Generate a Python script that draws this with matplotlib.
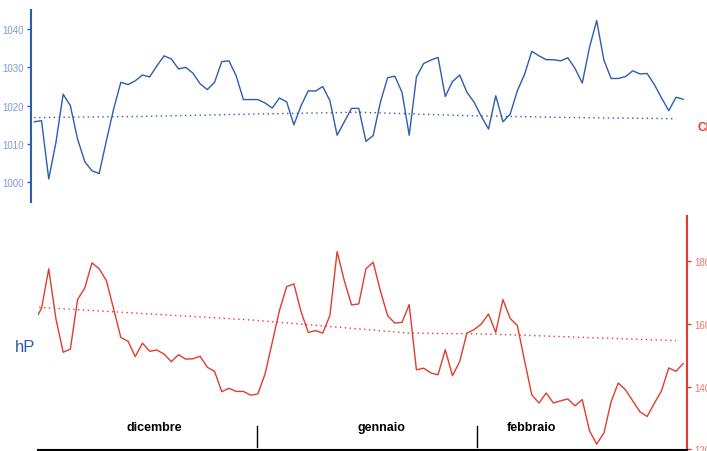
import matplotlib
matplotlib.use('Agg')
import matplotlib.pyplot as plt
import numpy as np

plt.rcParams['font.family'] = ['Liberation Sans', 'DejaVu Sans']

# pressione (hPa) giorno per giorno, dicembre -> febbraio
pressione = [1015.8, 1016.1, 1000.9, 1010.4, 1023.0, 1020.0, 1011.3, 1005.4, 1003.0, 1002.3,
             1010.9, 1019.1, 1026.1, 1025.5, 1026.5, 1028.0, 1027.5, 1030.4, 1033.0, 1032.2,
             1029.6, 1030.0, 1028.5, 1025.7, 1024.2, 1026.1, 1031.5, 1031.7, 1027.8, 1021.6,
             1021.6, 1021.6, 1020.7, 1019.4, 1022.0, 1021.0, 1015.0, 1020.0, 1023.9, 1023.8,
             1025.0, 1021.3, 1012.3, 1015.8, 1019.3, 1019.3, 1010.7, 1012.2, 1020.9, 1027.3,
             1027.7, 1023.5, 1012.3, 1027.5, 1031.0, 1031.9, 1032.6, 1022.4, 1026.3, 1028.0,
             1023.5, 1020.9, 1017.2, 1013.9, 1022.6, 1015.8, 1017.8, 1023.9, 1028.2, 1034.2,
             1033.0, 1032.0, 1032.0, 1031.7, 1032.5, 1029.7, 1025.9, 1035.2, 1042.2, 1031.9,
             1027.1, 1027.1, 1027.6, 1029.1, 1028.3, 1028.4, 1025.5, 1022.0, 1018.7, 1022.2, 1021.7]

# seconda serie (asse destro)
serie2 = [160.9, 165.0, 177.6, 161.6, 151.0, 152.0, 167.8, 171.5, 179.5, 177.6,
          173.8, 164.8, 155.7, 154.5, 149.6, 153.9, 151.3, 151.7, 150.4, 148.0,
          150.2, 148.8, 148.9, 149.7, 146.2, 144.9, 138.4, 139.5, 138.5, 138.5,
          137.3, 137.7, 144.0, 154.1, 164.3, 171.9, 172.8, 163.9, 157.3, 157.9,
          157.1, 162.7, 183.1, 173.8, 166.1, 166.4, 177.6, 179.7, 170.6, 162.7,
          160.3, 160.5, 166.2, 145.4, 145.9, 144.4, 143.8, 151.8, 143.5, 148.0,
          157.1, 158.2, 160.0, 163.2, 157.3, 167.8, 161.8, 159.5, 148.3, 137.4,
          134.8, 138.0, 134.8, 135.5, 136.1, 133.9, 135.9, 126.0, 121.7, 125.2,
          135.2, 141.2, 139.0, 135.5, 132.0, 130.5, 134.7, 138.7, 146.0, 144.9, 147.4]

# valori normali (linee punteggiate)
norm1_giorni = [0, 15, 30, 45, 60, 75, 89]
norm1_valori = [1016.9, 1017.2, 1017.8, 1018.3, 1017.4, 1016.9, 1016.6]
norm2_giorni = [0, 30, 52, 63, 89]
norm2_valori = [165.4, 161.3, 157.1, 156.8, 154.7]

mesi = ['dicembre', 'gennaio', 'febbraio']
mesi_pos = [16.7, 48.2, 69.0]
confini_mesi = [30.85, 61.4]

blu = '#2c5db0'
blu_chiaro = '#7f9bd0'
rosso = '#e03c30'
rosso_chiaro = '#eb7a6f'

giorni = np.arange(len(pressione))

fig = plt.figure(figsize=(7.07, 4.52), dpi=100)

# pannello superiore
ax1 = fig.add_axes([0.04385, 0.5502, 0.9279, 0.4265])
ax1.plot(giorni, pressione, color=blu, lw=1)
ax1.plot(norm1_giorni, norm1_valori, color=blu, lw=1, ls=(0, (1, 2.5)))
ax1.set_xlim(-0.458, 90.53)
ax1.set_ylim(994.79, 1045.09)
ax1.set_yticks([1000, 1010, 1020, 1030, 1040])
for s in ['top', 'right', 'bottom']:
    ax1.spines[s].set_visible(False)
ax1.spines['left'].set_color(blu)
ax1.spines['left'].set_linewidth(1.5)
ax1.tick_params(axis='y', colors=blu, labelcolor=blu_chiaro, labelsize=7, length=3, width=1, pad=2)
ax1.set_xticks([])
ax1.patch.set_alpha(0)

# pannello inferiore
ax2 = fig.add_axes([0.0542, 0.0033, 0.9175, 0.5173])
ax2.plot(giorni, serie2, color=rosso, lw=1)
ax2.plot(norm2_giorni, norm2_valori, color=rosso, lw=1, ls=(0, (1, 2.5)))
ax2.set_xlim(0.555, 90.53)
ax2.set_ylim(119.97, 194.55)
ax2.set_yticks([120, 140, 160, 180])
ax2.yaxis.tick_right()
ax2.spines['left'].set_visible(False)
ax2.spines['top'].set_visible(False)
ax2.spines['right'].set_color(rosso)
ax2.spines['right'].set_linewidth(1.5)
ax2.spines['bottom'].set_color('black')
ax2.spines['bottom'].set_linewidth(1.5)
ax2.tick_params(axis='y', colors=rosso, labelcolor=rosso_chiaro, labelsize=7, length=3, width=1, pad=2)
ax2.set_xticks([])
ax2.patch.set_alpha(0)

for c in confini_mesi:
    ax2.axvline(c, ymin=0.011, ymax=0.10, color='black', lw=1)
for nome, pos in zip(mesi, mesi_pos):
    ax2.text(pos, 0.0975, nome, transform=ax2.get_xaxis_transform(),
             ha='center', va='center', fontsize=9, fontweight='bold', color='black')

fig.text(15 / 707, 1 - 347 / 452, 'hP', color=blu, fontsize=12, ha='left', va='center')
fig.text(697 / 707, 1 - 128 / 452, 'Cl', color=rosso, fontsize=8.5, fontweight='bold',
         ha='left', va='center')

fig.savefig('out.png', dpi=100)
